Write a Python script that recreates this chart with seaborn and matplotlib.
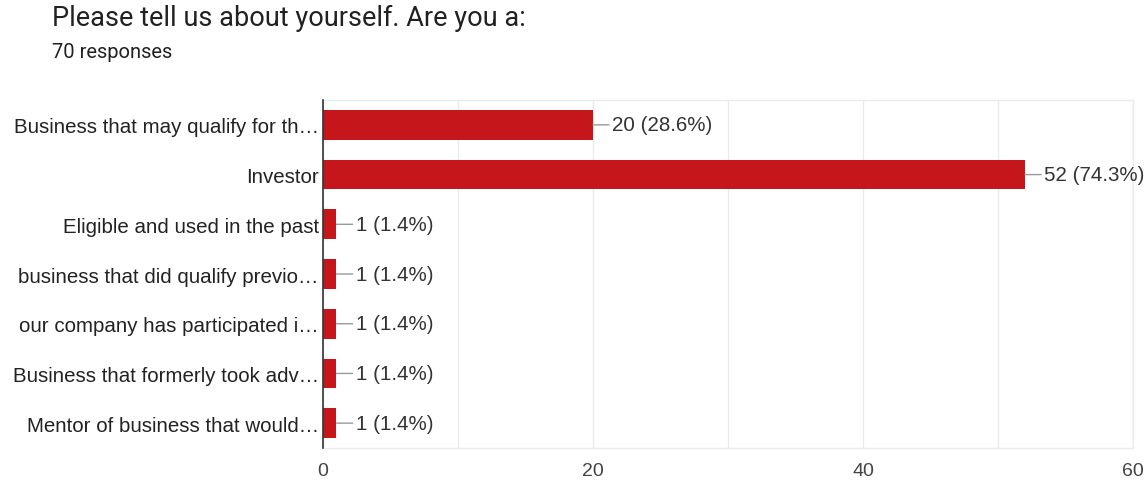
import matplotlib
matplotlib.use("Agg")
import matplotlib.pyplot as plt
import seaborn as sns
import pandas as pd

categories = [
    "Business that may qualify for th\u2026",
    "Investor",
    "Eligible and used in the past",
    "business that did qualify previo\u2026",
    "our company has participated i\u2026",
    "Business that formerly took adv\u2026",
    "Mentor of business that would\u2026",
]
counts = [20, 52, 1, 1, 1, 1, 1]
percents = ["28.6%", "74.3%", "1.4%", "1.4%", "1.4%", "1.4%", "1.4%"]
xticks = [0, 20, 40, 60]
title = "Please tell us about yourself. Are you a:"
subtitle = "70 responses"

df = pd.DataFrame({"category": categories, "count": counts})

sns.set_theme(style="white")
plt.rcParams["font.family"] = ["Liberation Sans", "DejaVu Sans"]

fig = plt.figure(figsize=(11.47, 4.81), dpi=100)
ax = fig.add_axes([0.2816, 0.0665, 0.7062, 0.7235])

sns.barplot(data=df, x="count", y="category", color="#c5161b", saturation=1,
            width=0.6, ax=ax, edgecolor="none", zorder=3)

ax.set_xlim(0, 60)
ax.set_xticks(xticks)
ax.set_xticks(range(0, 61, 10), minor=True)
ax.grid(True, axis="x", which="both", color="#ebebeb", linewidth=1, zorder=0)
ax.tick_params(axis="x", which="both", length=0, labelsize=14, colors="#444444", pad=10)
ax.tick_params(axis="y", length=0, labelsize=14.8, colors="#222222", pad=3)
ax.set_xlabel("")
ax.set_ylabel("")

for s in ["top", "right", "bottom"]:
    ax.spines[s].set_color("#ebebeb")
    ax.spines[s].set_linewidth(1)
ax.spines["left"].set_color("#333333")
ax.spines["left"].set_linewidth(1.2)
ax.spines["left"].set_zorder(5)

for i, (c, p) in enumerate(zip(counts, percents)):
    ax.annotate(f"{c} ({p})", xy=(c, i), xytext=(14, 0), textcoords="offset points",
                va="center", ha="left", fontsize=14.8, color="#333333",
                arrowprops=dict(arrowstyle="-", color="#999999", lw=1,
                                shrinkA=0, shrinkB=0))

fig.text(52 / 1147, 1 - 18 / 481, title, fontsize=19.5, color="#212121", va="center",
         ha="left", family=["Roboto", "DejaVu Sans"])
fig.text(52 / 1147, 1 - 53 / 481, subtitle, fontsize=14.5, color="#212121", va="center",
         ha="left", family=["Roboto", "DejaVu Sans"])

fig.savefig("out.png", dpi=100, facecolor="white")
